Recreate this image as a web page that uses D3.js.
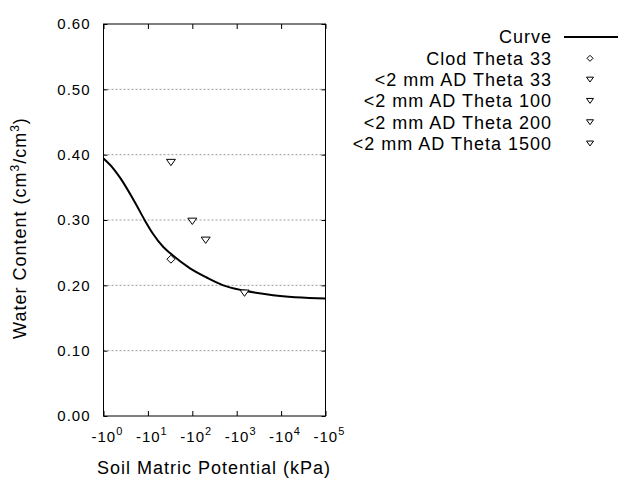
<!DOCTYPE html>
<html>
<head>
<meta charset="utf-8">
<script src="https://cdn.jsdelivr.net/npm/d3@7"></script>
<style>
body{margin:0;background:#fff;}
svg{display:block;font-family:"Liberation Sans",Arial,sans-serif;}
</style>
</head>
<body>
<svg id="chart" width="640" height="480"></svg>
<script>
// Fitted curve (pressure kPa, water content)
const curveKPa = [1, 1.7, 2.4, 5.2, 8.6, 13, 22, 32, 89, 210, 500, 1450, 6600, 100000];
const curveTheta = [0.394, 0.378, 0.364, 0.326, 0.299, 0.279, 0.259, 0.249, 0.226, 0.212, 0.200, 0.192, 0.185, 0.180];
// Measured points
const pointNames = ["Clod Theta 33", "<2 mm AD Theta 33", "<2 mm AD Theta 100", "<2 mm AD Theta 200", "<2 mm AD Theta 1500"];
const pointKPa = [33, 33, 100, 200, 1500];
const pointTheta = [0.240, 0.388, 0.298, 0.269, 0.188];
const pointSymbol = ["diamond", "triangle", "triangle", "triangle", "triangle"];
const yTicks = [0, 0.1, 0.2, 0.3, 0.4, 0.5, 0.6];
const xTickExp = [0, 1, 2, 3, 4, 5];

const svg = d3.select("#chart");
const L = 103.5, R = 325.5, T = 24, B = 416;
const x = d3.scaleLog().domain([1, 1e5]).range([L, R]);
const y = d3.scaleLinear().domain([0, 0.6]).range([B, T]);

// gridlines
svg.append("g").selectAll("line").data(yTicks.filter(d => d > 0 && d < 0.6)).join("line")
  .attr("x1", L).attr("x2", R).attr("y1", d => y(d)).attr("y2", d => y(d))
  .attr("stroke", "#999").attr("stroke-width", 1).attr("stroke-dasharray", "2,2");

// axes with inner ticks
const fmt = d3.format(".2f");
const axL = svg.append("g").attr("transform", `translate(${L},0)`)
  .call(d3.axisLeft(y).tickValues(yTicks).tickSize(-4).tickPadding(13).tickFormat(fmt));
const axR = svg.append("g").attr("transform", `translate(${R},0)`)
  .call(d3.axisRight(y).tickValues(yTicks).tickSize(-4).tickFormat(""));
const xTickVals = xTickExp.map(e => Math.pow(10, e));
const axB = svg.append("g").attr("transform", `translate(0,${B})`)
  .call(d3.axisBottom(x).tickValues(xTickVals).tickSize(-5).tickFormat(""));
const axT = svg.append("g").attr("transform", `translate(0,${T})`)
  .call(d3.axisTop(x).tickValues(xTickVals).tickSize(-5).tickFormat(""));
[axL, axR, axB, axT].forEach(a => {
  a.select(".domain").remove();
  a.selectAll("line").attr("stroke", "#000");
});
axL.selectAll("text").attr("font-size", 15).attr("letter-spacing", "1px")
  .attr("font-family", "Liberation Sans, Arial, sans-serif").attr("fill", "#000");

// frame
svg.append("rect").attr("x", L).attr("y", T).attr("width", R - L).attr("height", B - T)
  .attr("fill", "none").attr("stroke", "#000").attr("stroke-width", 1);

// x tick labels with superscripts
const xl = svg.append("g").selectAll("text").data(xTickExp).join("text")
  .attr("x", d => x(Math.pow(10, d)) - 12).attr("y", 442)
  .attr("font-size", 15).attr("letter-spacing", "1px");
xl.append("tspan").text("-10");
xl.append("tspan").attr("font-size", 11).attr("dy", -7).attr("letter-spacing", "0px").text(d => d);

// curve
const cdata = curveKPa.map((k, i) => [k, curveTheta[i]]);
svg.append("path").datum(cdata)
  .attr("d", d3.line().x(d => x(d[0])).y(d => y(d[1])).curve(d3.curveMonotoneX))
  .attr("fill", "none").attr("stroke", "#000").attr("stroke-width", 2);

// markers
function tri(cx, cy, w) {
  const h = w * 0.7;
  return `M${cx - w / 2},${cy - h / 2}L${cx + w / 2},${cy - h / 2}L${cx},${cy + h / 2}Z`;
}
function diam(cx, cy, w) {
  const r = w / 2;
  return `M${cx},${cy - r}L${cx + r},${cy}L${cx},${cy + r}L${cx - r},${cy}Z`;
}
const pts = pointKPa.map((k, i) => ({k, t: pointTheta[i], s: pointSymbol[i]}));
svg.append("g").selectAll("path").data(pts).join("path")
  .attr("d", d => d.s === "diamond" ? diam(x(d.k), y(d.t), 8) : tri(x(d.k), y(d.t), 9))
  .attr("fill", "#fff").attr("stroke", "#000").attr("stroke-width", 1);

// axis titles
svg.append("text").attr("x", 214).attr("y", 474).attr("text-anchor", "middle")
  .attr("font-size", 18).attr("letter-spacing", "1px").text("Soil Matric Potential (kPa)");
const yt = svg.append("text").attr("transform", "translate(26,228) rotate(-90)")
  .attr("text-anchor", "middle").attr("font-size", 18).attr("letter-spacing", "1px");
yt.append("tspan").text("Water Content (cm");
yt.append("tspan").attr("font-size", 12).attr("dy", -7).text("3");
yt.append("tspan").attr("dy", 7).text("/cm");
yt.append("tspan").attr("font-size", 12).attr("dy", -7).text("3");
yt.append("tspan").attr("dy", 7).text(")");

// legend
const legNames = ["Curve"].concat(pointNames);
const legSyms = ["line"].concat(pointSymbol);
const ly = i => 37 + i * 21.3;
const lg = svg.append("g");
lg.selectAll("text").data(legNames).join("text")
  .attr("x", 552).attr("y", (d, i) => ly(i)).attr("dy", "0.35em")
  .attr("text-anchor", "end").attr("font-size", 18).attr("letter-spacing", "1px").text(d => d);
lg.selectAll("path").data(legSyms).join("path")
  .attr("d", (d, i) => d === "line" ? `M564,${ly(i)}L618,${ly(i)}`
    : d === "diamond" ? diam(590, ly(i), 6) : tri(590, ly(i), 7))
  .attr("fill", d => d === "line" ? "none" : "#fff")
  .attr("stroke", "#000").attr("stroke-width", d => d === "line" ? 2 : 1);
</script>
</body>
</html>
